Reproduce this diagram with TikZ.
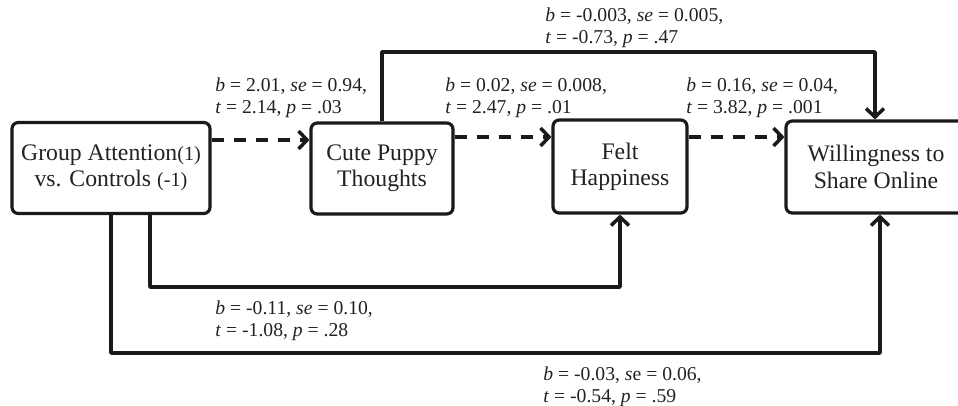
\documentclass[tikz,border=0pt]{standalone}
\usepackage{fontspec}
\setmainfont{Liberation Serif}
\usetikzlibrary{arrows.meta}
\definecolor{pathink}{HTML}{1A1A1A}
\definecolor{textink}{HTML}{222222}
\tikzset{
every picture/.style={line cap=butt,line join=round},
var box/.style={
  draw=pathink,
  rounded corners=3.5pt,
  line width=1.8pt,
  align=center,
  inner sep=0pt,
  text=textink,
  font=\fontsize{13.5}{15}\selectfont
},
path arrow/.style={
  draw=pathink,
  line width=2pt,
  -{Straight Barb[length=1.7mm,width=3.6mm]}
},
dashed arrow/.style={
  path arrow,
  dash pattern=on 2.5mm off 1.9mm
},
stat label/.style={
  anchor=north west,
  inner sep=0pt,
  align=left,
  text=textink,
  font=\fontsize{11.2}{12.8}\selectfont
}
}
\newcommand{\codesmall}[1]{{\fontsize{11.5}{15}\selectfont #1}}

\begin{document}
\begin{tikzpicture}[x=0.02cm,y=-0.02cm]
\useasboundingbox (0,0) rectangle (958,406);
% variables
\node[var box, minimum width=3.96cm, minimum height=1.82cm] (attn) at (111,168) {Group Attention\codesmall{(1)}\\vs. Controls \codesmall{(-1)}};
\node[var box, minimum width=2.84cm, minimum height=1.82cm] (puppy) at (382,168.5) {Cute Puppy\\Thoughts};
\node[var box, minimum width=2.68cm, minimum height=1.86cm] (happy) at (620,166.5) {Felt\\Happiness};
\node[var box, minimum width=3.6cm, minimum height=1.84cm] (share) at (876,167) {Willingness to\\Share Online};
% bend points
\coordinate (ab) at (0,140);
\coordinate (chain) at (0,137);
\coordinate (topbend) at (875,52);
\coordinate (acbend) at (150,287);
\coordinate (adbend) at (880,353);
% indirect path
\draw[dashed arrow] (attn.east |- ab) -- (puppy.west |- ab);
\draw[dashed arrow] (puppy.east |- chain) -- (happy.west |- chain);
\draw[dashed arrow] (happy.east |- chain) -- (share.west |- chain);
% direct paths
\draw[path arrow] (puppy.north) |- (topbend) -- (share.north -| topbend);
\draw[path arrow] (attn.south -| acbend) -- (acbend) -- (happy.south |- acbend) -- (happy.south);
\draw[path arrow] (attn.south) |- (adbend) -- (share.south -| adbend);
% coefficients
\node[stat label] (labAB) at (215,77) {\textit{b} = 2.01, \textit{se} = 0.94,\\\textit{t} = 2.14, \textit{p} = .03};
\node[stat label] (labBC) at (445,77) {\textit{b} = 0.02, \textit{se} = 0.008,\\\textit{t} = 2.47, \textit{p} = .01};
\node[stat label] (labCD) at (686,77) {\textit{b} = 0.16, \textit{se} = 0.04,\\\textit{t} = 3.82, \textit{p} = .001};
\node[stat label] (labBD) at (545,7) {\textit{b} = -0.003, \textit{se} = 0.005,\\\textit{t} = -0.73, \textit{p} = .47};
\node[stat label] (labAC) at (215,300) {\textit{b} = -0.11, \textit{se} = 0.10,\\\textit{t} = -1.08, \textit{p} = .28};
\node[stat label] (labAD) at (543,366) {\textit{b} = -0.03, \textit{s}e = 0.06,\\\textit{t} = -0.54, \textit{p} = .59};
\end{tikzpicture}
\end{document}
